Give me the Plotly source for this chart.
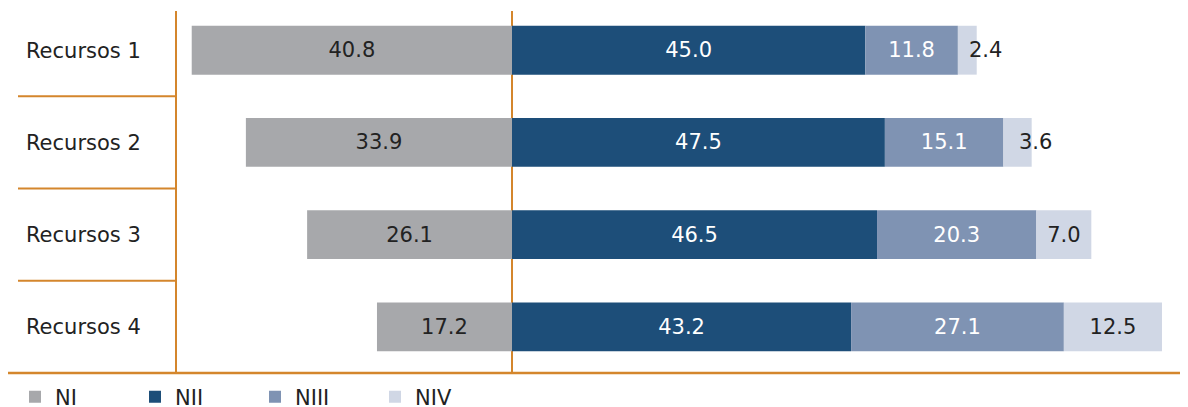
import plotly.graph_objects as go

categories = ["Recursos 1", "Recursos 2", "Recursos 3", "Recursos 4"]
ni = [40.8, 33.9, 26.1, 17.2]
nii = [45.0, 47.5, 46.5, 43.2]
niii = [11.8, 15.1, 20.3, 27.1]
niv = [2.4, 3.6, 7.0, 12.5]

colors = {"NI": "#a7a8ab", "NII": "#1d4e79", "NIII": "#7f93b3", "NIV": "#d0d7e5"}
orange = "#d4862c"
dark = "#222222"
font_family = "DejaVu Sans, Liberation Sans, sans-serif"
fs = 21

fig = go.Figure()

def add(name, xs, texts, tcolor, positions="inside"):
    fig.add_trace(go.Bar(
        name=name, y=categories, x=xs, orientation="h",
        marker=dict(color=colors[name], line=dict(width=0)),
        text=texts, textposition=positions, insidetextanchor="middle",
        textfont=dict(color=tcolor, size=fs, family=font_family),
        hoverinfo="skip", cliponaxis=False,
    ))

add("NI", [-v for v in ni], [f"{v:.1f}" for v in ni], dark)
add("NII", nii, [f"{v:.1f}" for v in nii], "white")
add("NIII", niii, [f"{v:.1f}" for v in niii], "white")
small = [v < 5 for v in niv]
add("NIV", niv, ["" if s else f"{v:.1f}" for v, s in zip(niv, small)], dark)

# labels of narrow NIV segments, drawn just past the segment
for cat, a, b, c, v, s in zip(categories, nii, niii, niv, niv, small):
    if s:
        fig.add_annotation(x=a + b + c / 2, y=cat, text=f"{v:.1f}", showarrow=False,
                           xanchor="center", xshift=18,
                           font=dict(color=dark, size=fs, family=font_family))

# the page has an 8px body margin; figure is sized/offset to compensate
W, H = 1180, 399
L, R, T, B = 169, 0, 3, 34
pw = W - L - R
zero_px = 504
scale = 7.85

for yb in [0.5, 1.5, 2.5]:
    fig.add_shape(type="line", xref="paper", yref="y",
                  x0=(10 - L) / pw, x1=0, y0=yb, y1=yb,
                  line=dict(color=orange, width=2))
fig.add_shape(type="line", xref="paper", yref="paper",
              x0=(-3 - L) / pw, x1=1, y0=0, y1=0,
              line=dict(color=orange, width=2.5))

fig.update_layout(
    width=W, height=H,
    margin=dict(l=L, r=R, t=T, b=B),
    barmode="relative", bargap=0.47,
    plot_bgcolor="white", paper_bgcolor="white",
    font=dict(family=font_family, size=fs, color=dark),
    showlegend=True,
    legend=dict(orientation="h", x=(7 - L) / pw, xanchor="left",
                yref="container", y=(H - 389) / H, yanchor="middle",
                entrywidth=75, font=dict(size=fs, color=dark, family=font_family),
                traceorder="normal", itemclick=False),
    xaxis=dict(range=[(L - zero_px) / scale, (W - zero_px) / scale], showgrid=False,
               showticklabels=False, ticks="", zeroline=True,
               zerolinecolor=orange, zerolinewidth=2, fixedrange=True),
    yaxis=dict(autorange=False, range=[3.5, -0.425], showgrid=False,
               showline=True, linecolor=orange, linewidth=2,
               ticks="", ticklabelstandoff=30,
               tickfont=dict(size=fs, color=dark, family=font_family), fixedrange=True),
    uniformtext=dict(minsize=fs, mode="show"),
)

fig.write_html("out.html")
